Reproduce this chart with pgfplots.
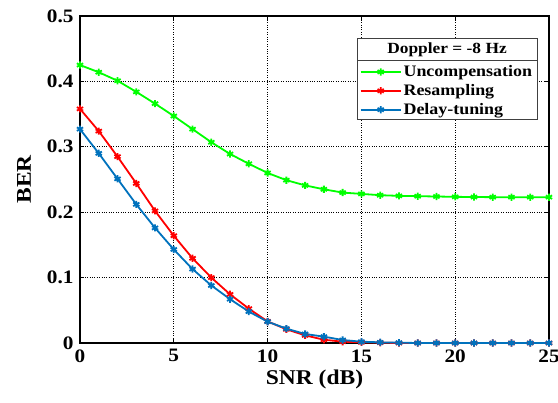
\documentclass[border=0pt]{standalone}
\usepackage{fontspec}
\setmainfont{Liberation Serif}[FakeStretch=1.12]
\usepackage{pgfplots}
\pgfplotsset{compat=1.18}
\usetikzlibrary{calc}

\definecolor{cgreen}{rgb}{0,1,0}
\definecolor{cred}{rgb}{1,0,0}
\definecolor{cblue}{rgb}{0,0.447,0.741}

% heavy asterisk: stroked star over a small filled disc
\pgfdeclareplotmark{heavystar}{%
  \pgfuseplotmark{asterisk}%
  \pgfpathcircle{\pgfpointorigin}{0.55\pgfplotmarksize}%
  \pgfusepathqfill
}

\begin{document}
\begin{tikzpicture}
\begin{axis}[
  scale only axis,
  width=469bp, height=327bp,
  xmin=0, xmax=25, ymin=0, ymax=0.5,
  xtick={0,5,...,25},
  ytick={0,0.1,...,0.5},
  yticklabels={0,0.1,0.2,0.3,0.4,0.5},
  grid=major,
  major grid style={black, dotted, line width=0.8bp},
  axis line style={black, line width=1.2bp},
  tick style={black, line width=0.8bp},
  tick align=inside,
  major tick length=4bp,
  /pgf/number format/assume math mode=true,
  ticklabel style={font=\fontsize{19bp}{21bp}\selectfont\bfseries},
  xticklabel style={yshift=-3bp},
  yticklabel style={xshift=-3bp},
  xlabel={SNR (dB)},
  ylabel={BER},
  xlabel style={font=\fontsize{21bp}{24bp}\selectfont\bfseries, at={(axis description cs:0.5,0)}, anchor=center, yshift=-36bp},
  ylabel style={font=\fontsize{21bp}{24bp}\selectfont\bfseries, at={(axis description cs:0,0.5)}, anchor=center, yshift=56bp},
  every axis plot/.append style={line width=1.8bp, mark=heavystar, mark size=3.6bp},
  every mark/.append style={line width=1.8bp},
  legend style={at={(axis cs:14.85,0.429)}, anchor=north west, draw=none, fill=none,
    font=\fontsize{16bp}{18bp}\selectfont\bfseries, inner sep=1bp, row sep=2.3bp,
    cells={anchor=west}},
  legend image code/.code={
    \draw[mark repeat=2, mark phase=2] plot coordinates {(0bp,0bp) (20bp,0bp) (40bp,0bp)};
  },
]
\coordinate (sw) at (rel axis cs:0,0);
\coordinate (ne) at (rel axis cs:1,1);

\addplot[cgreen] coordinates {
 (0,0.425) (1,0.414) (2,0.401) (3,0.384) (4,0.366) (5,0.347) (6,0.327)
 (7,0.307) (8,0.289) (9,0.274) (10,0.260) (11,0.249) (12,0.241) (13,0.235)
 (14,0.230) (15,0.228) (16,0.226) (17,0.225) (18,0.2245) (19,0.224)
 (20,0.2235) (21,0.2232) (22,0.223) (23,0.223) (24,0.223) (25,0.223)};
\addlegendentry{Uncompensation}

\addplot[cred] coordinates {
 (0,0.358) (1,0.324) (2,0.285) (3,0.244) (4,0.202) (5,0.164) (6,0.1295)
 (7,0.100) (8,0.0744) (9,0.0525) (10,0.033) (11,0.021) (12,0.0117) (13,0.005)
 (14,0.002) (15,0.001) (16,0.0005) (17,0) (18,0) (19,0)
 (20,0) (21,0) (22,0) (23,0) (24,0) (25,0)};
\addlegendentry{Resampling}

\addplot[cblue] coordinates {
 (0,0.327) (1,0.290) (2,0.251) (3,0.212) (4,0.176) (5,0.143) (6,0.113)
 (7,0.088) (8,0.067) (9,0.048) (10,0.0326) (11,0.022) (12,0.0138) (13,0.0097)
 (14,0.0046) (15,0.002) (16,0.001) (17,0.0005) (18,0) (19,0)
 (20,0) (21,0) (22,0) (23,0) (24,0) (25,0)};
\addlegendentry{Delay-tuning}

% legend frame with title row
\draw[fill=white, draw=black!75, line width=0.9bp] (axis cs:14.77,0.3425) rectangle (axis cs:24.36,0.465);
\draw[draw=black!75, line width=0.9bp] (axis cs:14.77,0.432) -- (axis cs:24.36,0.432);
\node[font=\fontsize{15.5bp}{17bp}\selectfont\bfseries] at (axis cs:19.565,0.4485) {Doppler = -8 Hz};
\end{axis}
\pgfresetboundingbox
\path ($(sw)+(-80bp,-60bp)$) rectangle ($(ne)+(9bp,16bp)$);
\end{tikzpicture}
\end{document}
